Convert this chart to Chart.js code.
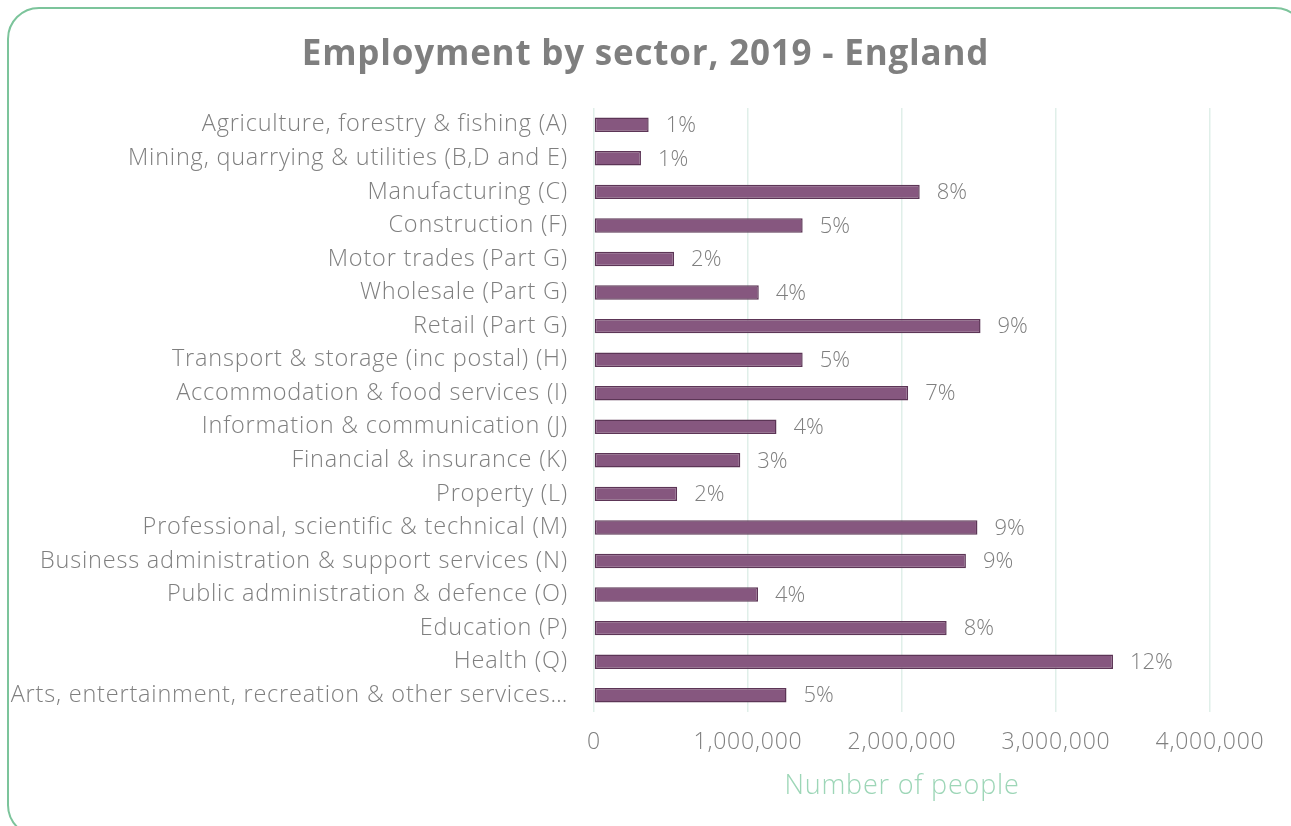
<!DOCTYPE html>
<html>
<head>
<meta charset="utf-8">
<script src="https://cdn.jsdelivr.net/npm/chart.js@4"></script>
<style>
    html, body { margin: 0; padding: 0; background: #fff; overflow: hidden; }
    #frame {
        position: absolute; left: 7px; top: 7px; width: 1300px; height: 830px;
        border: 2px solid #7cc49b; border-radius: 32px; box-sizing: border-box;
    }
    #wrap { position: absolute; left: 0; top: 0; width: 1291px; height: 826px; }
</style>
</head>
<body>
<div id="frame"></div>
<div id="wrap"><canvas id="chart" width="1291" height="826"></canvas></div>
<script>
"use strict";

const sectors = [
    "Agriculture, forestry & fishing (A)",
    "Mining, quarrying & utilities (B,D and E)",
    "Manufacturing (C)",
    "Construction (F)",
    "Motor trades (Part G)",
    "Wholesale (Part G)",
    "Retail (Part G)",
    "Transport & storage (inc postal) (H)",
    "Accommodation & food services (I)",
    "Information & communication (J)",
    "Financial & insurance (K)",
    "Property (L)",
    "Professional, scientific & technical (M)",
    "Business administration & support services (N)",
    "Public administration & defence (O)",
    "Education (P)",
    "Health (Q)",
    "Arts, entertainment, recreation & other services\u2026"
];

const employees = [
    355000, 305000, 2115000, 1355000, 520000, 1070000, 2510000, 1355000, 2040000,
    1185000, 950000, 540000, 2490000, 2415000, 1065000, 2290000, 3370000, 1250000
];

const shares = ["1%", "1%", "8%", "5%", "2%", "4%", "9%", "5%", "7%",
                "4%", "3%", "2%", "9%", "9%", "4%", "8%", "12%", "5%"];

const xTicks = [0, 1000000, 2000000, 3000000, 4000000];

const FONT = "'Open Sans', 'DejaVu Sans', sans-serif";
const GREY = "#7f7f7f";
const TRACKING = "0.8px";

// slightly wider tracking on the text the chart writes
const wideText = {
    id: "wideText",
    beforeUpdate(chart) { chart.ctx.letterSpacing = TRACKING; },
    beforeDraw(chart) { chart.ctx.letterSpacing = TRACKING; }
};

// writes the share text just past the end of each bar
const shareLabels = {
    id: "shareLabels",
    afterDatasetsDraw(chart) {
        const ctx = chart.ctx;
        const meta = chart.getDatasetMeta(0);
        ctx.save();
        ctx.font = "300 22px " + FONT;
        ctx.letterSpacing = "0px";
        ctx.fillStyle = GREY;
        ctx.textAlign = "left";
        ctx.textBaseline = "middle";
        meta.data.forEach((bar, i) => {
            ctx.fillText(shares[i], bar.x + 17, bar.y + 1);
        });
        ctx.restore();
    }
};

new Chart(document.getElementById("chart"), {
    type: "bar",
    data: {
        labels: sectors,
        datasets: [{
            data: employees,
            backgroundColor: "#86577f",
            borderColor: "#5c3556",
            borderWidth: 1.5,
            borderSkipped: false,
            categoryPercentage: 1,
            barPercentage: 0.43
        }]
    },
    options: {
        indexAxis: "y",
        responsive: false,
        animation: false,
        layout: { padding: { top: 10, right: 4, bottom: 26, left: 4 } },
        plugins: {
            legend: { display: false },
            tooltip: { enabled: false },
            title: {
                display: true,
                text: "Employment by sector, 2019 - England",
                color: GREY,
                font: { family: FONT, size: 35, weight: "bold" },
                padding: { top: 24, bottom: 32 }
            }
        },
        scales: {
            x: {
                min: 0,
                max: 4000000,
                afterBuildTicks: (axis) => { axis.ticks = xTicks.map(v => ({ value: v })); },
                // keep room on the right for the last tick label and the share text
                afterFit: (axis) => { axis.paddingRight = 81; },
                grid: { color: "#e0efe9", lineWidth: 1.5, drawTicks: false },
                border: { display: false },
                ticks: {
                    color: GREY,
                    padding: 19,
                    font: { family: FONT, size: 23, weight: "300", lineHeight: 1 },
                    callback: (v) => v.toLocaleString("en-GB")
                },
                title: {
                    display: true,
                    text: "Number of people",
                    color: "#9dd6b7",
                    font: { family: FONT, size: 27, weight: "300", lineHeight: 1 },
                    padding: { top: 0, bottom: 0 }
                }
            },
            y: {
                afterFit: (axis) => { axis.width = 590; },
                grid: { display: false },
                border: { display: false },
                ticks: {
                    color: GREY,
                    padding: 18,
                    autoSkip: false,
                    font: { family: FONT, size: 23.5, weight: "300", lineHeight: 1 }
                }
            }
        }
    },
    plugins: [wideText, shareLabels]
});
</script>
</body>
</html>
